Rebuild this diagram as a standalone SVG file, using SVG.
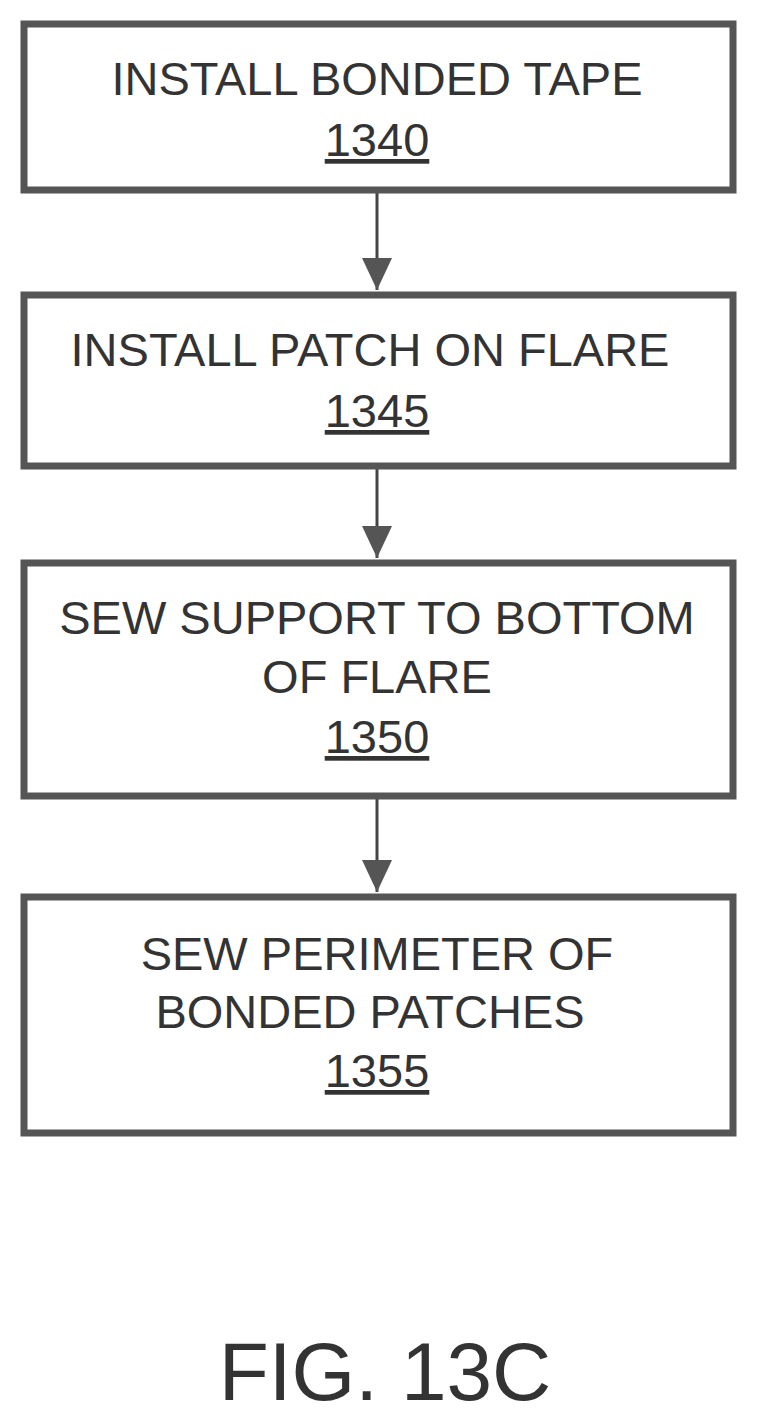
<svg xmlns="http://www.w3.org/2000/svg" width="757" height="1423" viewBox="0 0 757 1423">
<style>
.box{fill:#fff;stroke:#555;stroke-width:7}
.t{font-family:"Liberation Sans",Arial,sans-serif;font-size:47px;fill:#333;text-anchor:middle}
.u{text-decoration:underline}
.c{stroke:#444;stroke-width:3;fill:none}
</style>
<defs><marker id="a" markerWidth="10" markerHeight="10" refX="9" refY="5" orient="auto" markerUnits="userSpaceOnUse" viewBox="0 0 10 10"><path d="M0,0 L10,5 L0,10 z" fill="#555"/></marker></defs>
<rect width="757" height="1423" fill="#fff"/>
<g id="connectors">
<line class="c" x1="377" y1="193" x2="377" y2="290" marker-end="url(#a)" style="marker-end:none"/>
<path d="M362,258 L392,258 L377,290 z" fill="#555"/>
<line class="c" x1="377" y1="469" x2="377" y2="558"/>
<path d="M362,526 L392,526 L377,558 z" fill="#555"/>
<line class="c" x1="377" y1="799" x2="377" y2="892"/>
<path d="M362,860 L392,860 L377,892 z" fill="#555"/>
</g>
<g id="n1340"><rect class="box" x="24" y="24" width="709" height="166"/>
<text class="t" x="377" y="95">INSTALL BONDED TAPE</text><text class="t u" x="377" y="156">1340</text></g>
<g id="n1345"><rect class="box" x="24" y="295" width="709" height="171"/>
<text class="t" x="370" y="366">INSTALL PATCH ON FLARE</text><text class="t u" x="377" y="427">1345</text></g>
<g id="n1350"><rect class="box" x="24" y="563" width="709" height="233"/>
<text class="t" x="377" y="634">SEW SUPPORT TO BOTTOM</text><text class="t" x="377" y="693">OF FLARE</text><text class="t u" x="377" y="753">1350</text></g>
<g id="n1355"><rect class="box" x="24" y="897" width="709" height="236"/>
<text class="t" x="377" y="970">SEW PERIMETER OF</text><text class="t" x="370" y="1028">BONDED PATCHES</text><text class="t u" x="377" y="1087">1355</text></g>
<text x="385" y="1400" font-family="Liberation Sans,Arial,sans-serif" font-size="82" fill="#333" text-anchor="middle">FIG. 13C</text>
</svg>
